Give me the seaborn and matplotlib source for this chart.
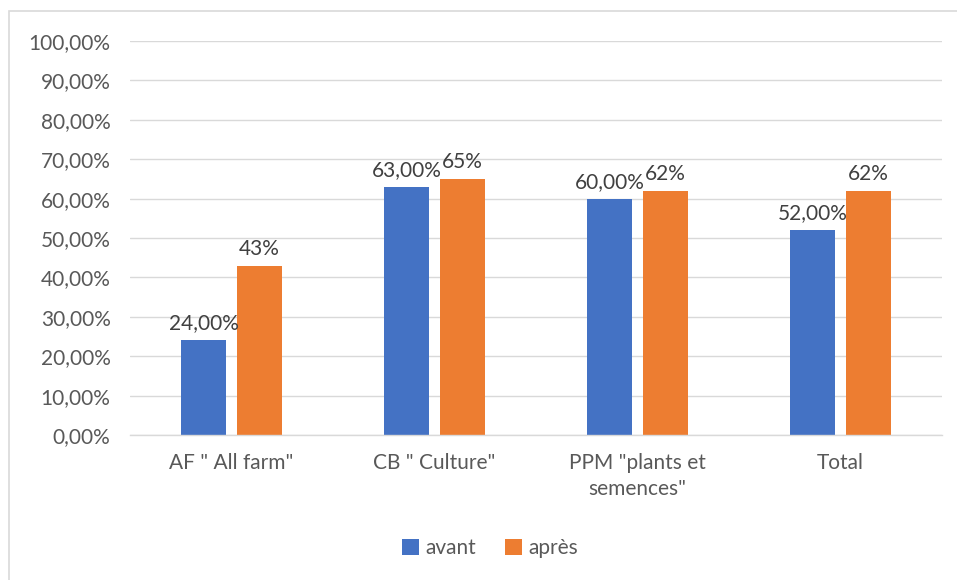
import pandas as pd
import seaborn as sns
import matplotlib.pyplot as plt
from matplotlib.patches import Rectangle
from matplotlib.ticker import FuncFormatter

categories = ['AF " All farm"', 'CB " Culture"', 'PPM "plants et\nsemences"', 'Total']
avant = [0.24, 0.63, 0.60, 0.52]
apres = [0.43, 0.65, 0.62, 0.62]
avant_labels = ['24,00%', '63,00%', '60,00%', '52,00%']
apres_labels = ['43%', '65%', '62%', '62%']
series = ['avant', 'après']
colors = ['#4472C4', '#ED7D31']

df = pd.DataFrame({
    'cat': categories * 2,
    'val': avant + apres,
    'serie': [series[0]] * 4 + [series[1]] * 4,
})

sns.set_style('white')
plt.rcParams['font.family'] = ['Lato', 'DejaVu Sans']
fs = 15

fig = plt.figure(figsize=(9.57, 5.8), dpi=100)
ax = fig.add_axes([130 / 957, 1 - 435 / 580, (942 - 130) / 957, (435 - 41) / 580])

sns.barplot(data=df, x='cat', y='val', hue='serie', palette=colors, saturation=1,
            width=0.552, gap=0.196, linewidth=0, ax=ax, legend=True)

ax.set_ylim(0, 1)
ax.set_xlim(-0.5, 3.5)
ax.set_yticks([i / 10 for i in range(11)])
ax.yaxis.set_major_formatter(FuncFormatter(lambda v, p: ('%.2f%%' % (v * 100)).replace('.', ',')))
ax.grid(axis='y', color='#D9D9D9', linewidth=1)
ax.set_axisbelow(True)
for s in ['top', 'right', 'left']:
    ax.spines[s].set_visible(False)
ax.spines['bottom'].set_color('#D9D9D9')
ax.spines['bottom'].set_linewidth(1)
ax.tick_params(axis='both', length=0, labelsize=fs, labelcolor='#595959')
ax.tick_params(axis='y', pad=14)
ax.tick_params(axis='x', pad=13)
for t in ax.get_xticklabels():
    t.set_linespacing(1.35)
ax.set_xlabel('')
ax.set_ylabel('')

for cont, labs in zip(ax.containers, [avant_labels, apres_labels]):
    ax.bar_label(cont, labels=labs, padding=5, fontsize=fs, color='#404040')

handles, labels = ax.get_legend_handles_labels()
ax.legend(handles, labels, loc='center', bbox_to_anchor=(490 / 957, 1 - 548 / 580),
          bbox_transform=fig.transFigure, ncol=2, frameon=False, fontsize=fs,
          handlelength=0.8, handleheight=0.8, handletextpad=0.3, columnspacing=1.4,
          labelcolor='#595959')

fig.patches.append(Rectangle((9 / 957, -0.1), 1.2, 1 - 11 / 580 + 0.1, transform=fig.transFigure,
                             fill=False, edgecolor='#D9D9D9', linewidth=1.2))

fig.savefig('out.png', dpi=100)
